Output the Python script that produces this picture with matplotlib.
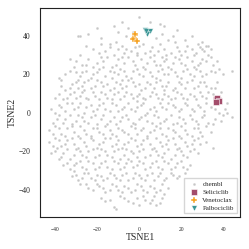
import matplotlib
matplotlib.use("Agg")
import matplotlib.pyplot as plt
import seaborn as sns

sns.set_style("white")
plt.rcParams['font.family'] = ['Liberation Serif', 'DejaVu Serif']
plt.rcParams['axes.unicode_minus'] = True

# chembl background points (x, y)
chembl = [
    (0, 50), (-12, 45), (-8, 47), (10, 46), (12, 45), (-5, 44),
    (-28, 40), (-29, 40), (-18, 39), (-10, 42), (-3, 42), (8, 39), (14, 38), (22, 38),
    (30, 37), (33, 35), (32, 35), (-14, 36), (16, 40),
    (-22, 33), (-16, 32), (-14, 34), (-12, 30), (-8, 35), (-6, 33), (-4, 32), (0, 35), (3, 31),
    (6, 34), (9, 32), (12, 33), (15, 31), (18, 34), (22, 32), (25, 33), (27, 31), (28, 36),
    (30, 33), (31, 32), (33, 30), (-10, 33), (-19, 31), (7, 30), (20, 30),
    (-30, 27), (-27, 25), (-24, 28), (-20, 26), (-17, 27), (-13, 24), (-10, 28), (-7, 26),
    (-5, 29), (-2, 25), (1, 28), (4, 26), (7, 27), (10, 25), (13, 28), (16, 26), (19, 28),
    (22, 25), (25, 27), (28, 25), (30, 28), (35, 25), (37, 27), (-15, 29), (11, 29),
    (-38, 18), (-37, 17), (-33, 22), (-30, 21), (-28, 19), (-25, 22), (-22, 20), (-19, 23),
    (-16, 19), (-12, 21), (-9, 23), (-6, 19), (-3, 22), (0, 20), (3, 23), (6, 19), (9, 22),
    (12, 20), (15, 23), (18, 19), (21, 22), (24, 20), (27, 23), (30, 19), (34, 22), (38, 23),
    (40, 20), (44, 22), (37, 16), (-14, 22),
    (-35, 12), (-32, 15), (-29, 13), (-26, 16), (-23, 13), (-20, 17), (-17, 14), (-14, 12),
    (-11, 16), (-8, 13), (-5, 17), (-2, 14), (1, 12), (4, 16), (7, 13), (10, 17), (13, 14),
    (16, 12), (19, 16), (22, 13), (25, 17), (28, 14), (31, 16), (34, 13), (-26, 12), (-8, 17),
    (12, 12),
    (-40, 8), (-36, 7), (-33, 10), (-30, 8), (-27, 11), (-24, 7), (-21, 9), (-18, 11), (-15, 8),
    (-12, 10), (-9, 7), (-6, 11), (-3, 8), (0, 10), (3, 7), (6, 11), (9, 8), (12, 10), (15, 7),
    (18, 11), (21, 8), (24, 10), (27, 7), (30, 9), (33, 11), (-1, 6), (42, 5), (41, 2),
    (-42, 2), (-38, 4), (-35, 1), (-32, 5), (-29, 3), (-26, 0), (-23, 4), (-20, 2), (-17, 5),
    (-14, 1), (-11, 4), (-8, 2), (-5, 5), (-2, 1), (1, 4), (4, 0), (7, 3), (10, 5), (13, 2),
    (16, 4), (19, 1), (22, 5), (25, 2), (28, 4), (31, 1), (34, 3), (38, 0), (44, -2), (40, -1),
    (-39, -3), (-36, -5), (-33, -1), (-30, -4), (-27, -2), (-24, -5), (-21, -1), (-18, -3),
    (-15, -6), (-12, -2), (-9, -4), (-6, -1), (-3, -5), (0, -3), (3, -1), (6, -5), (9, -2),
    (12, -4), (15, -1), (18, -5), (21, -3), (24, -1), (27, -4), (30, -2), (33, -5), (36, -3),
    (-43, -9), (-40, -7), (-37, -11), (-34, -8), (-31, -10), (-28, -7), (-25, -11), (-22, -8),
    (-19, -10), (-16, -7), (-13, -11), (-10, -8), (-7, -10), (-4, -7), (-1, -11), (2, -8),
    (5, -10), (8, -7), (11, -11), (14, -8), (17, -10), (20, -7), (23, -11), (26, -8), (29, -10),
    (32, -7), (30, -12),
    (-43, -15), (-40, -13), (-37, -17), (-34, -14), (-31, -16), (-28, -13), (-25, -17),
    (-22, -14), (-19, -16), (-16, -13), (-13, -17), (-10, -14), (-7, -16), (-4, -13), (-1, -17),
    (2, -14), (5, -16), (8, -13), (11, -17), (14, -14), (17, -16), (20, -13), (23, -17),
    (26, -14), (29, -16), (35, -18),
    (-40, -20), (-37, -23), (-34, -19), (-31, -22), (-28, -20), (-25, -23), (-22, -19),
    (-19, -22), (-16, -20), (-13, -23), (-10, -19), (-7, -22), (-4, -20), (-1, -23), (2, -19),
    (5, -22), (8, -20), (11, -23), (14, -19), (17, -22), (20, -20), (23, -23), (26, -19),
    (-38, -24), (-5, -24),
    (-36, -27), (-33, -29), (-30, -26), (-27, -28), (-24, -25), (-21, -29), (-18, -26),
    (-15, -28), (-12, -25), (-9, -29), (-6, -26), (-3, -28), (0, -25), (3, -29), (6, -26),
    (9, -28), (12, -25), (15, -29), (18, -26), (21, -28), (24, -27), (-31, -30),
    (-32, -33), (-29, -35), (-26, -31), (-23, -34), (-20, -32), (-17, -35), (-14, -31),
    (-11, -34), (-8, -32), (-5, -35), (-2, -31), (1, -34), (4, -32), (7, -35), (10, -31),
    (13, -34), (16, -32), (19, -33), (22, -31),
    (-25, -37), (-22, -40), (-19, -38), (-16, -41), (-13, -37), (-10, -40), (-7, -38),
    (-4, -41), (-1, -37), (2, -40), (5, -38), (8, -41), (11, -37), (14, -39), (-28, -37),
    (-18, -44), (-14, -45), (-9, -43), (-5, -46), (-1, -44), (3, -45), (7, -43), (8, -48),
    (5, -47), (-12, -49), (-11, -50), (11, -44), (0, -48),
    # second pass, points lying between the first ones
    (-20, 44), (5, 47), (18, 43), (25, 40), (-24, 41), (-6, 40), (11, 41),
    (-25, 35), (-18, 36), (-11, 37), (-2, 34), (2, 36), (5, 32), (10, 36), (13, 30), (17, 37),
    (19, 32), (23, 35), (26, 30), (29, 34), (34, 33), (-7, 31), (-1, 30),
    (-33, 28), (-28, 30), (-22, 24), (-18, 29), (-11, 25), (-8, 29), (-3, 27), (-1, 31), (2, 24),
    (5, 29), (8, 25), (12, 27), (14, 24), (17, 29), (20, 26), (23, 29), (26, 24), (29, 26),
    (32, 27), (34, 29), (-25, 25),
    (-35, 20), (-31, 24), (-27, 21), (-23, 18), (-20, 21), (-17, 24), (-13, 18), (-10, 20),
    (-7, 22), (-4, 18), (-1, 23), (2, 19), (5, 21), (8, 18), (11, 23), (14, 20), (17, 21),
    (20, 18), (23, 23), (26, 19), (29, 22), (32, 20), (36, 21), (-29, 17),
    (-37, 14), (-33, 13), (-30, 16), (-27, 14), (-24, 17), (-21, 14), (-18, 16), (-15, 15),
    (-12, 13), (-9, 15), (-6, 14), (-3, 16), (0, 15), (3, 13), (5, 15), (8, 16), (11, 14),
    (14, 16), (17, 13), (20, 15), (23, 16), (26, 13), (29, 16), (32, 14), (36, 13), (39, 11),
    (-38, 10), (-34, 8), (-31, 11), (-28, 9), (-25, 8), (-22, 11), (-19, 7), (-16, 10), (-13, 7),
    (-10, 11), (-7, 9), (-4, 10), (-1, 9), (2, 8), (5, 9), (8, 10), (11, 7), (14, 9), (17, 8),
    (20, 10), (23, 7), (26, 9), (29, 11), (32, 8), (35, 10),
    (-40, 0), (-37, 3), (-34, 5), (-31, 2), (-28, 5), (-25, 3), (-22, 1), (-19, 4), (-16, 2),
    (-13, 5), (-10, 1), (-7, 3), (-4, 2), (-1, 3), (2, 5), (5, 2), (8, 1), (11, 3), (14, 5),
    (17, 3), (20, 2), (23, 4), (26, 1), (29, 3), (32, 5), (36, 2), (42, 0),
    (-41, -5), (-38, -1), (-35, -3), (-32, -6), (-29, -1), (-26, -4), (-23, -2), (-20, -6),
    (-17, -1), (-14, -4), (-11, -6), (-8, -2), (-5, -3), (-2, -6), (1, -2), (4, -4), (7, -1),
    (10, -5), (13, -3), (16, -6), (19, -2), (22, -5), (25, -3), (28, -6), (31, -1), (35, -6),
    (39, -4),
    (-41, -11), (-38, -8), (-35, -12), (-32, -7), (-29, -12), (-26, -9), (-23, -12), (-20, -8),
    (-17, -11), (-14, -9), (-11, -12), (-8, -9), (-5, -11), (-2, -8), (1, -9), (4, -12), (7, -9),
    (10, -8), (13, -12), (16, -9), (19, -12), (22, -9), (25, -12), (28, -8), (34, -10),
    (-41, -17), (-38, -14), (-35, -16), (-32, -13), (-29, -18), (-26, -15), (-23, -13),
    (-20, -18), (-17, -15), (-14, -13), (-11, -16), (-8, -18), (-5, -15), (-2, -14), (1, -16),
    (4, -13), (7, -18), (10, -15), (13, -16), (16, -13), (19, -18), (22, -15), (25, -16),
    (28, -13), (32, -15),
    (-42, -21), (-39, -18), (-36, -21), (-33, -24), (-30, -19), (-27, -22), (-24, -20),
    (-21, -23), (-18, -19), (-15, -22), (-12, -20), (-9, -24), (-6, -19), (-3, -21), (0, -20),
    (3, -23), (6, -19), (9, -22), (12, -21), (15, -24), (18, -19), (21, -22), (24, -20), (28, -21),
    (-34, -26), (-31, -27), (-28, -25), (-25, -29), (-22, -26), (-19, -28), (-16, -25),
    (-13, -29), (-10, -26), (-7, -28), (-4, -25), (-1, -27), (2, -26), (5, -28), (8, -25),
    (11, -29), (14, -26), (17, -28), (20, -25), (23, -29),
    (-30, -32), (-27, -34), (-24, -31), (-21, -35), (-18, -33), (-15, -34), (-12, -32),
    (-9, -35), (-6, -31), (-3, -34), (0, -32), (3, -35), (6, -31), (9, -33), (12, -35),
    (15, -31), (18, -34),
    (-24, -39), (-20, -37), (-17, -39), (-14, -40), (-11, -38), (-8, -41), (-5, -39), (-2, -40),
    (1, -38), (4, -41), (7, -39), (10, -40), (12, -42),
    (-16, -46), (-7, -44), (-3, -47), (2, -43), (6, -45), (10, -47),
]
chembl_x = [p[0] for p in chembl]
chembl_y = [p[1] for p in chembl]

seliciclib_x = [36.5, 37.5, 37.0, 38.0, 36.8]
seliciclib_y = [7.0, 6.5, 8.0, 6.0, 5.8]
venetoclax_x = [-2.0, -2.5, -3.0, -1.0, -2.0]
venetoclax_y = [40.5, 39.0, 38.5, 37.5, 41.0]
palbociclib_x = [3.0, 4.0, 5.0, 4.0, 3.5]
palbociclib_y = [43.0, 42.0, 42.5, 41.0, 42.5]

fig = plt.figure(figsize=(2.49, 2.49), dpi=100)
ax = fig.add_axes([0.161, 0.129, 0.803, 0.839])

ax.scatter(chembl_x, chembl_y, s=4, color='#b8b8b8', alpha=0.8, edgecolor='white', linewidth=0.2, label='chembl')
ax.scatter(seliciclib_x, seliciclib_y, s=18, marker='s', color='#a34d6b', edgecolor='white', linewidth=0.4, label='Seliciclib')
ax.scatter(venetoclax_x, venetoclax_y, s=16, marker='P', color='#f5a01e', edgecolor='white', linewidth=0.3, label='Venetoclax')
ax.scatter(palbociclib_x, palbociclib_y, s=16, marker='v', color='#3b9696', edgecolor='white', linewidth=0.3, label='Palbociclib')

ax.set_xlim(-47, 48)
ax.set_ylim(-54, 54.5)
ax.set_xticks([-40, -20, 0, 20, 40])
ax.set_yticks([-40, -20, 0, 20, 40])
ax.tick_params(axis='x', labelsize=4)
ax.tick_params(axis='y', labelsize=5.5)
ax.set_xlabel('TSNE1', fontsize=7, labelpad=1)
ax.set_ylabel('TSNE2', fontsize=7, labelpad=1)
for s in ax.spines.values():
    s.set_color('#222222')
    s.set_linewidth(0.8)

ax.legend(loc='lower right', fontsize=5, frameon=True, borderpad=0.4, labelspacing=0.3,
          handletextpad=0.2, markerscale=1.0, fancybox=False, edgecolor='#cccccc')

fig.savefig('out.png', dpi=100)
